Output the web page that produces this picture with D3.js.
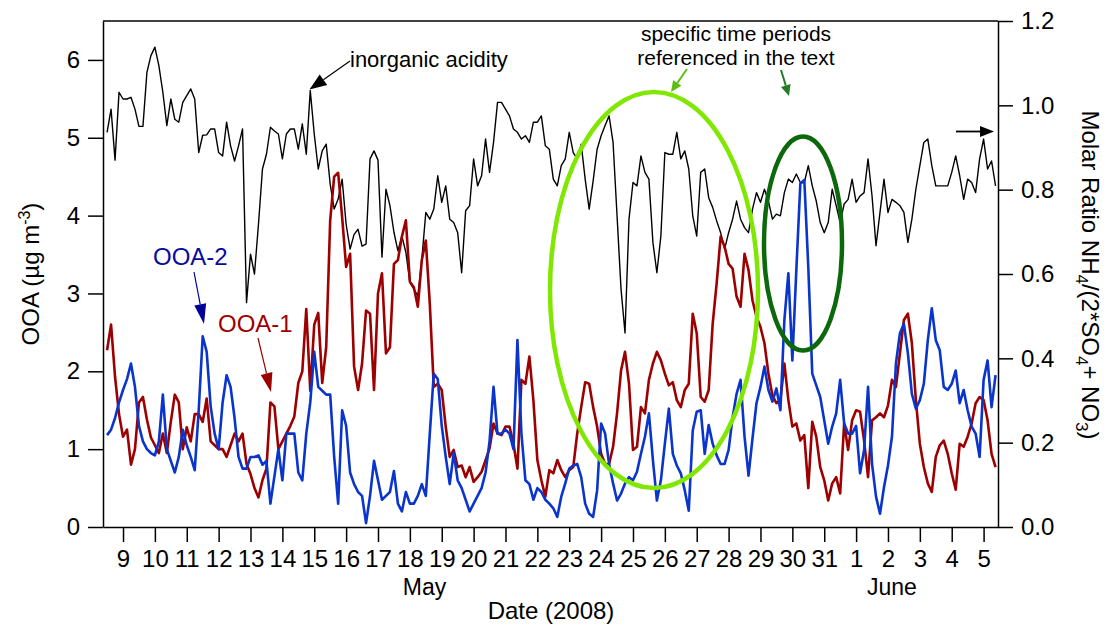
<!DOCTYPE html>
<html>
<head>
<meta charset="utf-8">
<script src="https://d3js.org/d3.v7.min.js"></script>
<style>
body { margin: 0; background: #fff; }
text { font-family: "Liberation Sans", Arial, Helvetica, sans-serif; }
</style>
</head>
<body>
<div id="chart"></div>
<script>
// samples every 3 h starting 8 May 2008 12:00
var startTime = Date.UTC(2008, 4, 8, 12);
var stepHours = 3;

// molar ratio NH4/(2*SO4+NO3), right axis
var ratio = [0.936,0.991,0.87,1.031,1.015,1.015,1.019,0.991,0.950,0.950,1.078,1.118,1.138,1.094,1.031,0.952,1.015,0.967,0.960,1.007,
  1.023,1.039,1.015,0.888,0.929,0.930,0.944,0.944,0.888,0.880,0.960,0.904,0.868,0.904,0.944,0.532,0.647,0.600,0.718,0.849,
  0.884,0.948,0.939,0.932,0.873,0.932,0.944,0.944,0.896,0.956,0.884,1.035,0.932,0.849,0.892,0.908,0.813,0.754,0.778,0.825,
  0.718,0.659,0.694,0.706,0.666,0.671,0.873,0.892,0.870,0.640,0.801,0.762,0.699,0.655,0.690,0.651,0.580,0.564,0.548,0.635,
  0.746,0.730,0.754,0.833,0.770,0.809,0.730,0.722,0.698,0.603,0.750,0.762,0.873,0.809,0.833,0.920,0.841,0.912,1.007,1.007,
  0.991,0.975,0.944,0.936,0.920,0.928,0.912,0.960,0.960,0.975,0.904,0.896,0.825,0.809,0.857,0.873,0.936,0.888,0.873,0.908,
  0.825,0.754,0.821,0.896,0.928,0.952,0.975,0.912,0.738,0.564,0.460,0.730,0.817,0.809,0.880,0.841,0.825,0.675,0.603,0.690,
  0.888,0.884,0.884,0.936,0.873,0.892,0.849,0.738,0.690,0.841,0.849,0.781,0.758,0.726,0.698,0.659,0.698,0.730,0.773,0.730,
  0.710,0.698,0.754,0.793,0.770,0.801,0.773,0.730,0.742,0.738,0.793,0.825,0.817,0.837,0.817,0.817,0.857,0.809,0.773,0.722,
  0.698,0.722,0.801,0.762,0.722,0.766,0.777,0.825,0.770,0.785,0.793,0.873,0.785,0.667,0.746,0.825,0.746,0.777,0.770,0.762,
  0.746,0.675,0.730,0.801,0.857,0.912,0.920,0.857,0.809,0.809,0.809,0.809,0.841,0.880,0.833,0.777,0.825,0.817,0.793,0.873,
  0.920,0.849,0.868,0.809];

// OOA-1, left axis
var ooa1 = [2.27,2.6,1.93,1.45,1.16,1.25,0.8,1.0,1.6,1.67,1.38,1.15,1.05,0.95,1.2,0.95,1.35,1.7,1.6,1.0,
  1.28,1.1,1.45,1.45,1.35,1.65,1.1,1.05,1.0,1.0,0.9,1.05,1.2,1.1,1.2,0.81,0.68,0.5,0.38,0.6,
  0.75,1.6,1.55,1.0,1.1,1.2,1.3,1.42,1.85,2.0,2.8,1.75,2.6,2.75,1.85,2.31,3.94,4.5,4.55,3.98,
  3.34,3.51,2.06,1.76,2.1,2.78,2.74,1.76,3.0,3.26,2.23,2.31,3.38,3.43,3.73,3.94,3.15,3.08,2.83,3.43,
  3.68,2.87,1.8,1.84,1.76,1.29,0.9,0.99,0.77,0.79,0.64,0.77,0.58,0.64,0.71,0.86,1.01,1.33,1.2,1.18,
  1.29,1.29,1.07,0.75,1.89,1.84,2.19,1.63,0.86,0.6,0.39,0.73,0.69,0.86,0.73,0.64,0.73,0.77,1.2,1.54,
  1.86,1.84,1.54,1.29,0.94,0.81,0.81,1.03,1.46,2.01,2.25,1.84,0.99,1.03,1.54,1.46,1.89,2.1,2.25,2.14,
  1.97,1.82,1.86,1.63,1.54,1.76,1.84,2.74,2.49,1.67,1.61,1.76,2.61,3.13,3.73,3.6,3.38,3.32,2.96,2.83,
  3.51,3.3,2.91,2.7,2.57,2.36,1.97,1.69,1.59,1.63,2.1,1.63,1.29,1.33,1.11,1.18,0.5,1.35,1.16,0.77,
  0.6,0.34,0.56,0.64,0.43,1.33,0.99,1.37,1.5,1.48,1.11,0.64,1.37,1.41,1.46,1.41,1.56,1.89,1.8,2.23,
  2.66,2.74,2.36,1.63,1.07,0.77,0.56,0.45,0.9,1.05,1.11,0.94,0.69,0.48,1.07,1.03,1.16,1.33,1.59,1.67,
  1.63,1.37,0.94,0.77];

// OOA-2, left axis
var ooa2 = [1.18,1.25,1.4,1.6,1.76,1.9,2.1,1.8,1.3,1.1,1.0,0.95,0.92,1.1,1.7,1.0,0.85,0.7,0.9,1.25,
  1.05,0.9,0.73,1.5,2.45,2.25,1.55,1.2,1.0,1.6,1.95,1.8,1.4,0.9,0.75,0.75,0.9,0.9,0.92,0.8,
  0.85,0.3,0.65,1.0,0.6,1.2,1.2,1.2,0.7,0.6,1.2,1.6,2.25,1.8,1.75,1.7,1.7,0.9,0.3,1.5,
  1.3,0.7,0.55,0.45,0.4,0.05,0.4,0.85,0.6,0.35,0.4,0.45,0.72,0.3,0.2,0.45,0.3,0.3,0.4,0.55,
  0.4,1.2,1.97,1.9,1.3,0.9,0.55,0.95,0.6,0.5,0.35,0.2,0.3,0.4,0.5,0.7,1.1,1.8,1.2,1.2,
  1.25,1.2,1.0,2.4,1.2,0.6,0.55,0.35,0.5,0.45,0.35,0.3,0.24,0.13,0.39,0.56,0.75,0.79,0.81,0.64,
  0.3,0.17,0.13,0.47,1.33,1.2,0.81,0.56,0.34,0.43,0.56,0.64,0.6,0.71,0.94,1.16,1.46,0.86,0.34,0.6,
  1.07,1.52,0.94,0.79,0.69,0.47,0.21,1.24,1.48,1.5,0.94,1.31,1.07,0.92,0.81,0.81,0.99,1.41,1.71,1.89,
  1.16,0.66,1.14,1.59,1.8,2.06,1.76,1.61,1.78,1.5,2.66,3.26,2.14,3.3,4.41,4.46,3.34,1.97,1.82,1.67,
  1.37,1.07,1.29,1.46,1.89,1.33,1.2,1.2,1.3,0.69,0.99,1.8,0.81,0.39,0.17,0.51,0.79,1.16,2.1,2.49,
  2.61,2.23,1.71,1.52,1.63,1.84,2.4,2.81,2.4,2.27,1.8,1.76,1.84,2.01,1.59,1.76,1.5,1.29,1.2,0.9,
  1.89,2.14,1.54,1.95];

var leftTicks = [0, 1, 2, 3, 4, 5, 6];
var rightTicks = [0, 0.2, 0.4, 0.6, 0.8, 1.0, 1.2];
var monthLabels = [
  {label: "May", date: Date.UTC(2008, 4, 18, 11)},
  {label: "June", date: Date.UTC(2008, 5, 2, 3)}
];

var W = 1105, H = 626;
var margin = {top: 21, right: 107, bottom: 99, left: 103};
var width = W - margin.left - margin.right;
var height = H - margin.top - margin.bottom;

function timeAt(i) { return new Date(startTime + i * stepHours * 3600000); }

var x = d3.scaleUtc()
  .domain([new Date(Date.UTC(2008, 4, 8, 8, 56)), new Date(Date.UTC(2008, 5, 5, 10, 51))])
  .range([0, width]);
var yL = d3.scaleLinear().domain([0, 6.5]).range([height, 0]);
var yR = d3.scaleLinear().domain([0, 1.2]).range([height, 0]);

var svg = d3.select("#chart").append("svg")
  .attr("width", W)
  .attr("height", H);
var g = svg.append("g").attr("transform", "translate(" + margin.left + "," + margin.top + ")");

// lines
var lineR = d3.line().x(function(d, i) { return x(timeAt(i)); }).y(function(d) { return yR(d); });
var lineL = d3.line().x(function(d, i) { return x(timeAt(i)); }).y(function(d) { return yL(d); });

g.append("path").datum(ratio).attr("d", lineR)
  .attr("fill", "none").attr("stroke", "#000").attr("stroke-width", 1.4).attr("stroke-linejoin", "round");
g.append("path").datum(ooa1).attr("d", lineL)
  .attr("fill", "none").attr("stroke", "#9c0000").attr("stroke-width", 2.6).attr("stroke-linejoin", "round");
g.append("path").datum(ooa2).attr("d", lineL)
  .attr("fill", "none").attr("stroke", "#0a35cc").attr("stroke-width", 2.6).attr("stroke-linejoin", "round");

// axes
var xAxis = d3.axisBottom(x)
  .ticks(d3.utcDay.every(1))
  .tickFormat(d3.utcFormat("%-d"))
  .tickSize(15).tickSizeOuter(0).tickPadding(8);
var yAxisL = d3.axisLeft(yL).tickValues(leftTicks).tickFormat(d3.format("d"))
  .tickSize(15).tickSizeOuter(0).tickPadding(8);
var yAxisR = d3.axisRight(yR).tickValues(rightTicks).tickFormat(d3.format(".1f"))
  .tickSize(15).tickSizeOuter(0).tickPadding(8);

g.append("g").attr("class", "axis").attr("transform", "translate(0," + height + ")").call(xAxis);
g.append("g").attr("class", "axis").call(yAxisL);
g.append("g").attr("class", "axis").attr("transform", "translate(" + width + ",0)").call(yAxisR);

g.selectAll(".axis text").attr("font-size", 24).attr("fill", "#000")
  .style("font-family", "'Liberation Sans', Arial, sans-serif");
g.selectAll(".axis line").attr("stroke", "#000").attr("stroke-width", 1.5);
g.selectAll(".axis .domain").attr("stroke", "#000").attr("stroke-width", 1.5);

// top frame line
g.append("line").attr("x1", 0).attr("x2", width).attr("y1", 0).attr("y2", 0)
  .attr("stroke", "#000").attr("stroke-width", 1.5);

// month labels
g.selectAll(".month").data(monthLabels).enter().append("text")
  .attr("class", "month")
  .attr("x", function(d) { return x(new Date(d.date)); })
  .attr("y", 574)
  .attr("text-anchor", "middle")
  .attr("font-size", 23)
  .text(function(d) { return d.label; });

// axis titles
svg.append("text")
  .attr("x", 551).attr("y", 619)
  .attr("text-anchor", "middle").attr("font-size", 24)
  .text("Date (2008)");

var lt = svg.append("text")
  .attr("transform", "translate(39,274) rotate(-90)")
  .attr("text-anchor", "middle").attr("font-size", 24);
lt.append("tspan").text("OOA (\u00b5g m");
lt.append("tspan").attr("dy", -9).attr("font-size", 16).text("-3");
lt.append("tspan").attr("dy", 9).text(")");

var rt = svg.append("text")
  .attr("transform", "translate(1082,275) rotate(90)")
  .attr("text-anchor", "middle").attr("font-size", 24);
rt.append("tspan").text("Molar Ratio NH");
rt.append("tspan").attr("dy", 6).attr("font-size", 17).text("4");
rt.append("tspan").attr("dy", -6).text("/(2*SO");
rt.append("tspan").attr("dy", 6).attr("font-size", 17).text("4");
rt.append("tspan").attr("dy", -6).text("+ NO");
rt.append("tspan").attr("dy", 6).attr("font-size", 17).text("3");
rt.append("tspan").attr("dy", -6).text(")");

// highlighted periods
svg.append("ellipse")
  .attr("cx", 654).attr("cy", 290).attr("rx", 104).attr("ry", 198)
  .attr("fill", "none").attr("stroke", "#80e800").attr("stroke-width", 4.5);
svg.append("ellipse")
  .attr("cx", 803).attr("cy", 243.5).attr("rx", 39).attr("ry", 107)
  .attr("fill", "none").attr("stroke", "#0b680b").attr("stroke-width", 4.5);

// arrows
function arrow(x1, y1, x2, y2, color, len, half, sw) {
  var a = Math.atan2(y2 - y1, x2 - x1);
  var bx = x2 - len * Math.cos(a), by = y2 - len * Math.sin(a);
  svg.append("line")
    .attr("x1", x1).attr("y1", y1).attr("x2", bx).attr("y2", by)
    .attr("stroke", color).attr("stroke-width", sw);
  var p1 = [bx + half * Math.sin(a), by - half * Math.cos(a)];
  var p2 = [bx - half * Math.sin(a), by + half * Math.cos(a)];
  svg.append("polygon")
    .attr("points", [[x2, y2], p1, p2].map(function(p) { return p.join(","); }).join(" "))
    .attr("fill", color);
}

arrow(350, 61, 309.5, 89.5, "#000", 17, 6.5, 1.2);
arrow(194, 272, 204, 324, "#000099", 20, 6, 1.2);
arrow(258, 338, 271, 392, "#9c0000", 19, 6, 1.2);
arrow(687, 69, 671, 92, "#5cbf10", 11, 5, 2);
arrow(781, 70, 789, 96, "#257a25", 11, 5, 2);
arrow(956, 131.5, 994, 131.5, "#000", 14, 5.5, 1.8);

// annotation text
svg.append("text").attr("x", 350).attr("y", 67).attr("font-size", 22)
  .text("inorganic acidity");
svg.append("text").attr("x", 736).attr("y", 41).attr("text-anchor", "middle").attr("font-size", 21)
  .text("specific time periods");
svg.append("text").attr("x", 736).attr("y", 65).attr("text-anchor", "middle").attr("font-size", 21)
  .text("referenced in the text");
svg.append("text").attr("x", 153).attr("y", 265).attr("font-size", 24).attr("fill", "#0a0aa0")
  .text("OOA-2");
svg.append("text").attr("x", 218).attr("y", 332).attr("font-size", 24).attr("fill", "#a00000")
  .text("OOA-1");
</script>
</body>
</html>
